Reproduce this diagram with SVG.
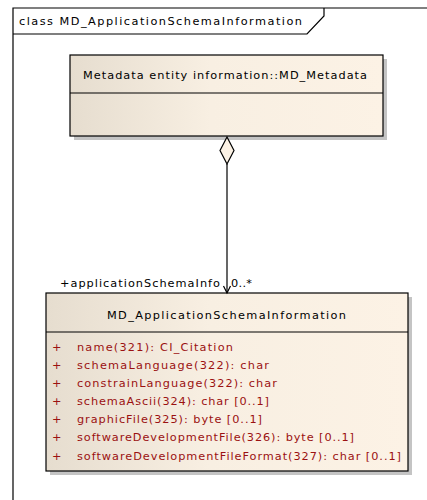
<svg xmlns="http://www.w3.org/2000/svg" width="427" height="500" viewBox="0 0 427 500" xml:space="preserve">
<style>
text{font-family:"DejaVu Sans","Liberation Sans",sans-serif;font-size:11.3px;fill:#000}
.attr{fill:#9b1111}
.box{fill:url(#g);stroke:#000;stroke-width:1.2}
.sh{fill:#c4c4c4}
.ln{stroke:#000;stroke-width:1.2;fill:none}
</style>
<defs>
<linearGradient id="g" x1="0" y1="0" x2="1" y2="0">
<stop offset="0" stop-color="#e6ddcf"/>
<stop offset="0.45" stop-color="#f8efe2"/>
<stop offset="1" stop-color="#fcf2e5"/>
</linearGradient>
</defs>
<rect width="427" height="500" fill="#fff"/>
<g id="frame">
<path class="ln" d="M13,500 V8 H427"/>
<path class="ln" d="M13,34 H307 L324,16 V8"/>
<text x="19" y="25" textLength="283" lengthAdjust="spacing">class MD_ApplicationSchemaInformation</text>
</g>
<g id="MD_Metadata">
<rect class="sh" x="74" y="59" width="313" height="81"/>
<rect class="box" x="70" y="55" width="313" height="81"/>
<line class="ln" x1="70" y1="93" x2="383" y2="93"/>
<text x="83" y="79" textLength="284" lengthAdjust="spacing">Metadata entity information::MD_Metadata</text>
</g>
<g id="MD_ApplicationSchemaInformation">
<rect class="sh" x="50" y="297" width="362" height="178"/>
<rect class="box" x="46" y="293" width="362" height="178"/>
<line class="ln" x1="46" y1="332" x2="408" y2="332"/>
<text x="107" y="319" textLength="239" lengthAdjust="spacing">MD_ApplicationSchemaInformation</text>
<text class="attr" x="52" y="351">+</text><text class="attr" x="77" y="351" textLength="156" lengthAdjust="spacing">name(321):  CI_Citation</text>
<text class="attr" x="52" y="369">+</text><text class="attr" x="77" y="369" textLength="192" lengthAdjust="spacing">schemaLanguage(322):  char</text>
<text class="attr" x="52" y="387">+</text><text class="attr" x="77" y="387" textLength="200" lengthAdjust="spacing">constrainLanguage(322):  char</text>
<text class="attr" x="52" y="405">+</text><text class="attr" x="77" y="405" textLength="192" lengthAdjust="spacing">schemaAscii(324):  char [0..1]</text>
<text class="attr" x="52" y="423">+</text><text class="attr" x="77" y="423" textLength="185" lengthAdjust="spacing">graphicFile(325):  byte [0..1]</text>
<text class="attr" x="52" y="441">+</text><text class="attr" x="77" y="441" textLength="277" lengthAdjust="spacing">softwareDevelopmentFile(326):  byte [0..1]</text>
<text class="attr" x="52" y="460">+</text><text class="attr" x="77" y="460" textLength="324" lengthAdjust="spacing">softwareDevelopmentFileFormat(327):  char [0..1]</text>
</g>
<g id="connectors">
<line class="ln" x1="227" y1="164" x2="227" y2="293"/>
<path d="M227,137 L234,150.5 L227,164 L220,150.5 Z" fill="#fcf2e5" stroke="#000" stroke-width="1.2"/>
<path class="ln" d="M223.5,286 L227,293 L230.5,286"/>
<text x="60" y="287" textLength="160" lengthAdjust="spacing">+applicationSchemaInfo</text>
<text x="231" y="287" textLength="21" lengthAdjust="spacing">0..*</text>
</g>
</svg>
